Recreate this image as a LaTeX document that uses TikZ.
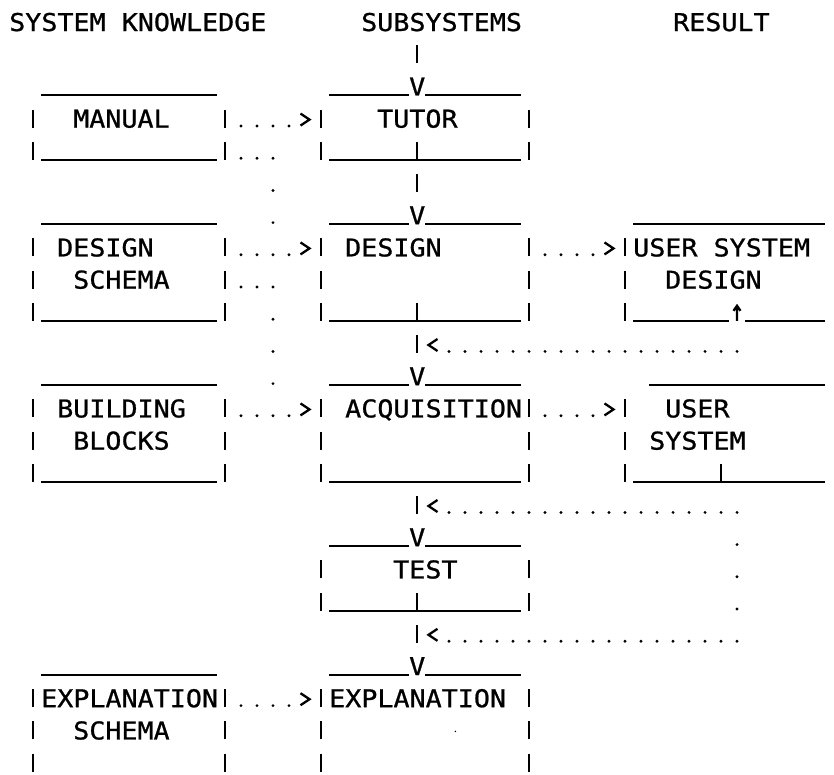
\documentclass[tikz,border=0pt]{standalone}
\usepackage{fontspec}
\newfontfamily\printfont[FakeStretch=1.09,FakeBold=0.9]{DejaVu Sans Mono}
\tikzset{
  glyph/.style={line width=2.7pt},
  rule/.style={line width=1.9pt},
  txt/.style={font=\printfont\fontsize{24.5}{24.5}\selectfont,inner sep=0pt,anchor=base west},
}
% one printer cell each: column #1, line #2
\newcommand\cellbar[2]{\draw[glyph] (#1,#2) -- ++(0,18pt);}
\newcommand\cellrule[3]{\draw[rule] ({#1-0.5},#3) -- ({#2+0.5},#3);}
\newcommand\celldots[3]{\foreach \col in {#1,...,#2} \fill (\col,#3) ++(0,1.6pt) circle (1.6pt);}
\newcommand\cellgt[2]{\draw[glyph,line width=2.3pt] (#1,#2) ++(-4.5pt,14pt) -- ++(9pt,-6pt) -- ++(-9pt,-6pt);}
\newcommand\celllt[2]{\draw[glyph,line width=2.3pt] (#1,#2) ++(4.5pt,14pt) -- ++(-9pt,-6pt) -- ++(9pt,-6pt);}
\newcommand\cellup[2]{\draw[glyph,line width=2.3pt] (#1,#2) -- ++(0,15pt) ++(-3.5pt,-5pt) -- ++(3.5pt,5pt) -- ++(3.5pt,-5pt);}
\newcommand\midtop[1]{\cellrule{20}{24}{#1}\node[txt] at (24.5,#1) {V};\cellrule{26}{31}{#1}}

\begin{document}
\begin{tikzpicture}[x=16pt,y=-32.2pt]
\useasboundingbox (-17pt,-775.2pt) rectangle (817pt,-1.2pt);

\node[txt] (knowledge) at (-0.5,1) {SYSTEM KNOWLEDGE};
\node[txt] (subsystems) at (21.5,1) {SUBSYSTEMS};
\node[txt] (result) at (41,1) {RESULT};

% system knowledge
\foreach \r in {4,5,8,9,10,13,14,15,22,23,24} {\cellbar{1}{\r}\cellbar{13}{\r}}
\foreach \r in {3,5,7,10,12,15,21} {\cellrule{2}{12}{\r}}
\node[txt] (manual) at (3.5,4) {MANUAL};
\node[txt] (designschema) at (2.5,8) {DESIGN};
\node[txt] (designschema2) at (3.5,9) {SCHEMA};
\node[txt] (building) at (2.5,13) {BUILDING};
\node[txt] (building2) at (3.5,14) {BLOCKS};
\node[txt] (explschema) at (1.5,22) {EXPLANATION};
\node[txt] (explschema2) at (3.5,23) {SCHEMA};

% subsystems
\foreach \r in {4,5,8,9,10,13,14,15,18,19,22,23,24} {\cellbar{19}{\r}\cellbar{32}{\r}}
\foreach \r in {3,7,12,17,21} {\midtop{\r}}
\foreach \r in {5,10,15,19} {\cellrule{20}{31}{\r}}
\foreach \r in {2,5,6,10,11,16,19,20} {\cellbar{25}{\r}}
\node[txt] (tutor) at (22.5,4) {TUTOR};
\node[txt] (design) at (20.5,8) {DESIGN};
\node[txt] (acquisition) at (20.5,13) {ACQUISITION};
\node[txt] (test) at (23.5,18) {TEST};
\node[txt] (explanation) at (19.5,22) {EXPLANATION};
\fill (27.4,23) ++(0,8pt) circle (0.8pt);

% result
\foreach \r in {8,9,10,13,14,15} {\cellbar{38}{\r}}
\cellrule{39}{50}{7}
\cellrule{39}{44}{10} \cellup{45}{10} \cellrule{46}{50}{10}
\cellrule{40}{50}{12}
\cellrule{39}{50}{15} \cellbar{44}{15}
\node[txt] (usersystemdesign) at (38.5,8) {USER SYSTEM};
\node[txt] (usersystemdesign2) at (40.5,9) {DESIGN};
\node[txt] (usersystem) at (40.5,13) {USER};
\node[txt] (usersystem2) at (39.5,14) {SYSTEM};

% dotted flows
\foreach \r in {4,8,13,22} {\celldots{14}{17}{\r}\cellgt{18}{\r}}
\foreach \r in {5,9} {\celldots{14}{16}{\r}}
\foreach \r in {6,7,10,11,12} {\celldots{16}{16}{\r}}
\foreach \r in {8,13} {\celldots{33}{36}{\r}\cellgt{37}{\r}}
\foreach \r in {11,16,20} {\celllt{26}{\r}\celldots{27}{45}{\r}}
\foreach \r in {17,18,19} {\celldots{45}{45}{\r}}
\end{tikzpicture}
\end{document}
